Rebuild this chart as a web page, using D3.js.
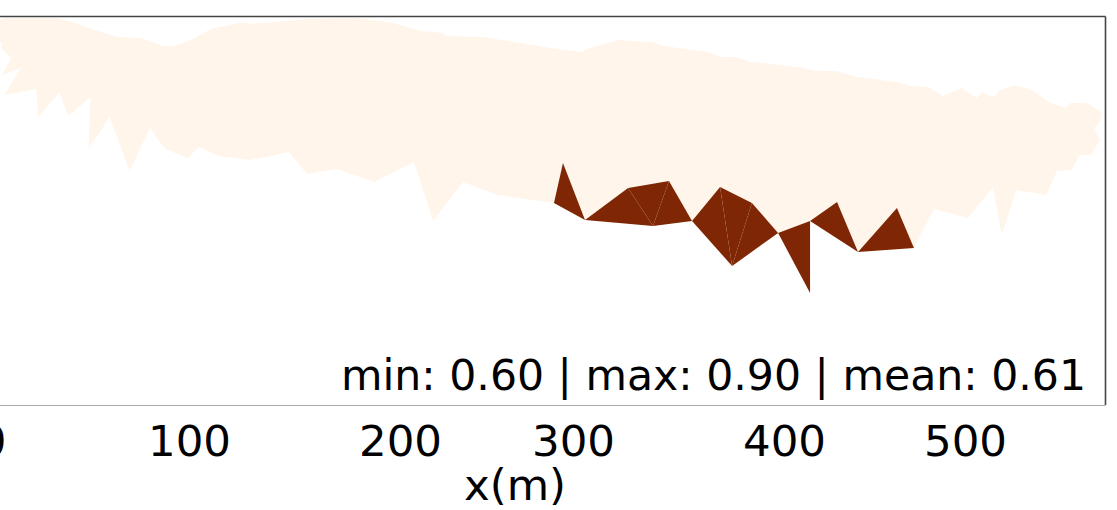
<!DOCTYPE html>
<html>
<head>
<meta charset="utf-8">
<script src="https://cdn.jsdelivr.net/npm/d3@7"></script>
<style>
  html, body { margin: 0; padding: 0; background: #ffffff; }
  svg { display: block; }
  text { font-family: "DejaVu Sans", sans-serif; fill: #000; }
</style>
</head>
<body>
<svg id="chart" width="1117" height="510"></svg>
<script>
// ---------- data ----------
const xTicks = [0, 100, 200, 300, 400, 500];
const xTickLabels = ["0", "100", "200", "300", "400", "500"];
const xLabel = "x(m)";

// outline of the mesh region with value 0.60 (x in m, y in m)
const lowRegionX = [0, 7.1, 32.7, 44.4, 49.0, 63.8, 75.5, 87.2, 92.9, 101.9, 110.4, 125.6, 128.9, 146.0, 157.8, 179.6, 196.7, 212.1, 224.9, 226.6, 247.4, 265.9, 290.8, 304.3, 306.2, 321.3, 337.4, 343.1, 363.5, 370.1, 377.3, 383.9, 390.5, 410.5, 418.8, 428.7, 440.3, 461.9, 470.2, 479.6, 487.8, 498.3, 506.6, 509.4, 516.0, 519.3, 527.1, 537.0, 547.0, 555.8, 558.0, 566.9, 575.7,
  574.6, 571.3, 574.6, 569.6, 563.5, 558.6, 550.8, 544.8, 528.2, 520.4, 515.5, 501.7, 482.9, 471.8, 462.4, 440.9, 429.3, 414.4, 397.2, 384.8, 369.7, 356.4, 345.5, 326.1, 305.7, 294.2, 289.0, 256.1, 236.4, 219.1, 208.1, 187.7, 170.1, 155.9, 147.4, 138.9, 128.4, 113.7, 104.7, 99.5, 87.8, 80.1, 69.9, 59.7, 49.0, 50.0, 38.8, 34.2, 23.5, 22.4, 6.1, 14.8, 5.1, 9.7, 4.6, 5.1, 0];
const lowRegionY = [191.5, 193.5, 193.5, 190.5, 188.5, 184, 183.5, 179.5, 179.5, 183, 188, 191.5, 190.5, 192, 193, 193.5, 191, 187, 186, 184.5, 184, 181.5, 178, 176.5, 178, 182.5, 181.5, 179.5, 176.5, 174, 174, 171.5, 171, 168.5, 167, 167, 164, 161.5, 159.5, 159, 154.5, 158.5, 153.5, 156.5, 154, 157.5, 160, 157.5, 151, 148.5, 151, 151, 146.5,
  141.5, 138.5, 132.5, 125, 125, 117.5, 117, 105, 107.5, 85, 109, 93.5, 98, 78.5, 98.5, 76.5, 101.5, 92, 86, 101, 109, 92, 112, 108.5, 92.5, 121, 101, 105, 111.5, 92, 121.5, 111.5, 118, 115.5, 126.5, 124.5, 122.5, 124.5, 129, 123.5, 128, 138.5, 117, 144, 128, 154, 144.5, 156.5, 144, 158, 155, 168.5, 165, 173.5, 178.5, 181, 182.5];
const lowRegionValue = 0.60;

// nodes of the high-value triangles
const nodeX = [289.0, 294.2, 305.7, 326.1, 345.5, 337.9, 356.4, 369.7, 375.4, 384.8, 397.2, 414.4, 414.4, 429.3, 440.9, 462.4, 471.8];
const nodeY = [101, 121, 92.5, 108.5, 112, 89.5, 92, 109, 69.5, 101, 86, 92, 56, 101.5, 76.5, 98.5, 78.5];
const triangles = [[0,1,2],[2,3,5],[3,4,5],[4,6,5],[6,7,8],[7,9,8],[9,10,8],[10,11,12],[11,13,14],[14,15,16]];
const triangleValues = [0.90, 0.90, 0.90, 0.90, 0.90, 0.90, 0.90, 0.90, 0.90, 0.90];

const statMin = 0.60, statMax = 0.90, statMean = 0.61;

// ---------- drawing ----------
const svg = d3.select("#chart");
const plot = { left: -75, right: 1105, top: 17, bottom: 405 };

const x = d3.scaleLinear().domain(xTicks).range([-8, 189, 400, 573, 784, 965]);
const y = d3.scaleLinear().domain([0, 194]).range([plot.bottom, plot.top]);
const color = d3.scaleSequential(d3.interpolateOranges).domain([0.6, 0.9]);

svg.append("defs").append("clipPath").attr("id", "clip")
  .append("rect")
  .attr("x", plot.left).attr("y", plot.top)
  .attr("width", plot.right - plot.left).attr("height", plot.bottom - plot.top);

const g = svg.append("g").attr("clip-path", "url(#clip)");

const lowPts = lowRegionX.map((v, i) => [x(v), y(lowRegionY[i])]);
g.append("path")
  .attr("d", d3.line()(lowPts) + "Z")
  .attr("fill", color(lowRegionValue))
  .attr("stroke", "none");

g.selectAll("path.tri")
  .data(triangles)
  .join("path")
  .attr("class", "tri")
  .attr("d", t => d3.line()(t.map(k => [x(nodeX[k]), y(nodeY[k])])) + "Z")
  .attr("fill", (t, i) => color(triangleValues[i]))
  .attr("stroke", "none");

// frame
svg.append("line").attr("x1", plot.left).attr("x2", plot.right + 0.5)
  .attr("y1", plot.top - 0.5).attr("y2", plot.top - 0.5)
  .attr("stroke", "#444").attr("stroke-width", 1.6);
svg.append("line").attr("x1", plot.right + 0.5).attr("x2", plot.right + 0.5)
  .attr("y1", plot.top - 0.5).attr("y2", plot.bottom)
  .attr("stroke", "#444").attr("stroke-width", 1.6);
svg.append("line").attr("x1", plot.left).attr("x2", plot.right + 0.5)
  .attr("y1", plot.bottom + 0.5).attr("y2", plot.bottom + 0.5)
  .attr("stroke", "#aaa").attr("stroke-width", 1.2);

// x axis (labels only)
const axis = svg.append("g")
  .attr("transform", `translate(0,${plot.bottom})`)
  .call(d3.axisBottom(x).tickValues(xTicks).tickFormat((d, i) => xTickLabels[i]).tickSize(0).tickPadding(0));
axis.select(".domain").remove();
axis.selectAll("text")
  .attr("y", 51)
  .attr("dy", null)
  .style("font-family", "'DejaVu Sans', sans-serif")
  .style("font-size", "43.5px")
  .attr("fill", "#000");

svg.append("text")
  .attr("x", (plot.left + plot.right) / 2)
  .attr("y", 500)
  .attr("text-anchor", "middle")
  .style("font-size", "43.5px")
  .text(xLabel);

svg.append("text")
  .attr("x", 1086)
  .attr("y", 390)
  .attr("text-anchor", "end")
  .style("font-size", "42.6px")
  .text(`min: ${statMin.toFixed(2)} | max: ${statMax.toFixed(2)} | mean: ${statMean.toFixed(2)}`);
</script>
</body>
</html>
